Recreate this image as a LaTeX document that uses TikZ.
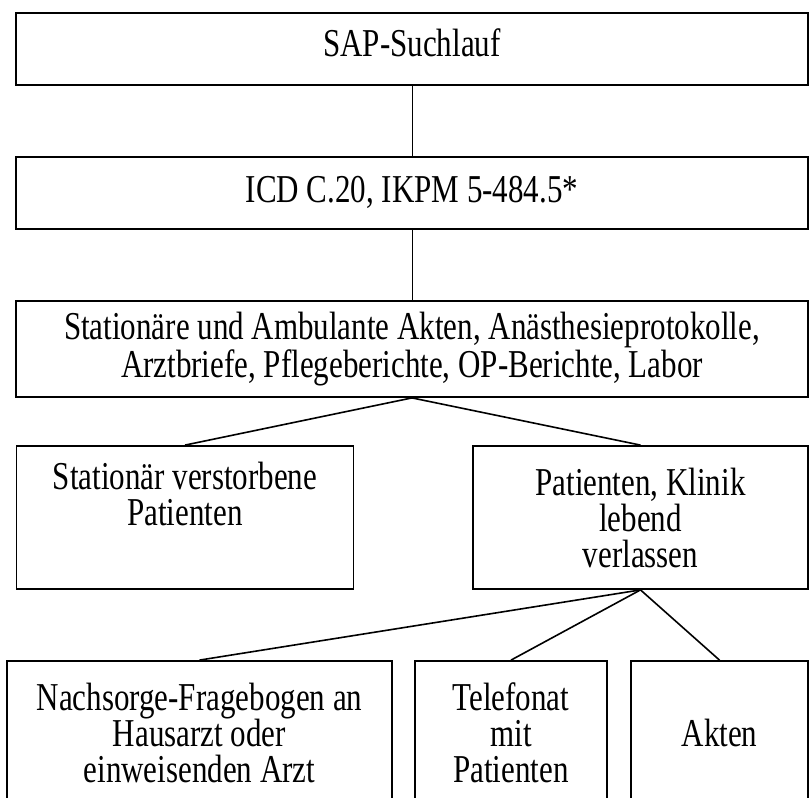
\documentclass[tikz,border=0pt]{standalone}
\usepackage{fontspec}
\setmainfont{Liberation Serif}[FakeStretch=0.785]

\begin{document}
\begin{tikzpicture}[x=1pt,y=-1pt,
        box/.style={draw, line width=1.8pt, inner sep=0pt, align=center, font={\fontsize{39.5}{36}\selectfont}},
        thinline/.style={line width=1pt},
        slantline/.style={line width=1.6pt}]
        \useasboundingbox (0,0) rectangle (809,798);
        \node [box, minimum width=792, minimum height=72, text depth=12pt] (sap) at (412,49) {SAP-Suchlauf};
        \node [box, minimum width=792, minimum height=72, text depth=7pt] (icd) at (412,193) {ICD C.20, IKPM 5-484.5*};
        \node [box, minimum width=792, minimum height=96, font={\fontsize{39.5}{31}\selectfont}] (akten) at (412,349) {Stationäre und Ambulante Akten, Anästhesieprotokolle,\\Arztbriefe, Pflegeberichte, OP-Berichte, Labor};
        \node [box, minimum width=337, minimum height=143] (tot) at (185,517.5) {Stationär verstorbene\\Patienten\\\strut};
        \node [box, minimum width=335, minimum height=143] (lebend) at (640.5,517.5) {Patienten, Klinik\\lebend\\verlassen};
        \node [box, minimum width=385, minimum height=143] (frage) at (199.5,732.5) {Nachsorge-Fragebogen an\\Hausarzt oder\\einweisenden Arzt};
        \node [box, minimum width=192, minimum height=143] (tel) at (511,732.5) {Telefonat\\mit\\Patienten};
        \node [box, minimum width=177, minimum height=143] (akte) at (719.5,732.5) {Akten};
        \draw [thinline] (sap.south) -- (icd.north);
        \draw [thinline] (icd.south) -- (akten.north);
        \draw [slantline] (akten.south) -- (tot.north);
        \draw [slantline] (akten.south) -- (lebend.north);
        \draw [slantline] (lebend.south) -- (frage.north);
        \draw [slantline] (lebend.south) -- (tel.north);
        \draw [slantline] (lebend.south) -- (akte.north);
    \end{tikzpicture}
\end{document}
